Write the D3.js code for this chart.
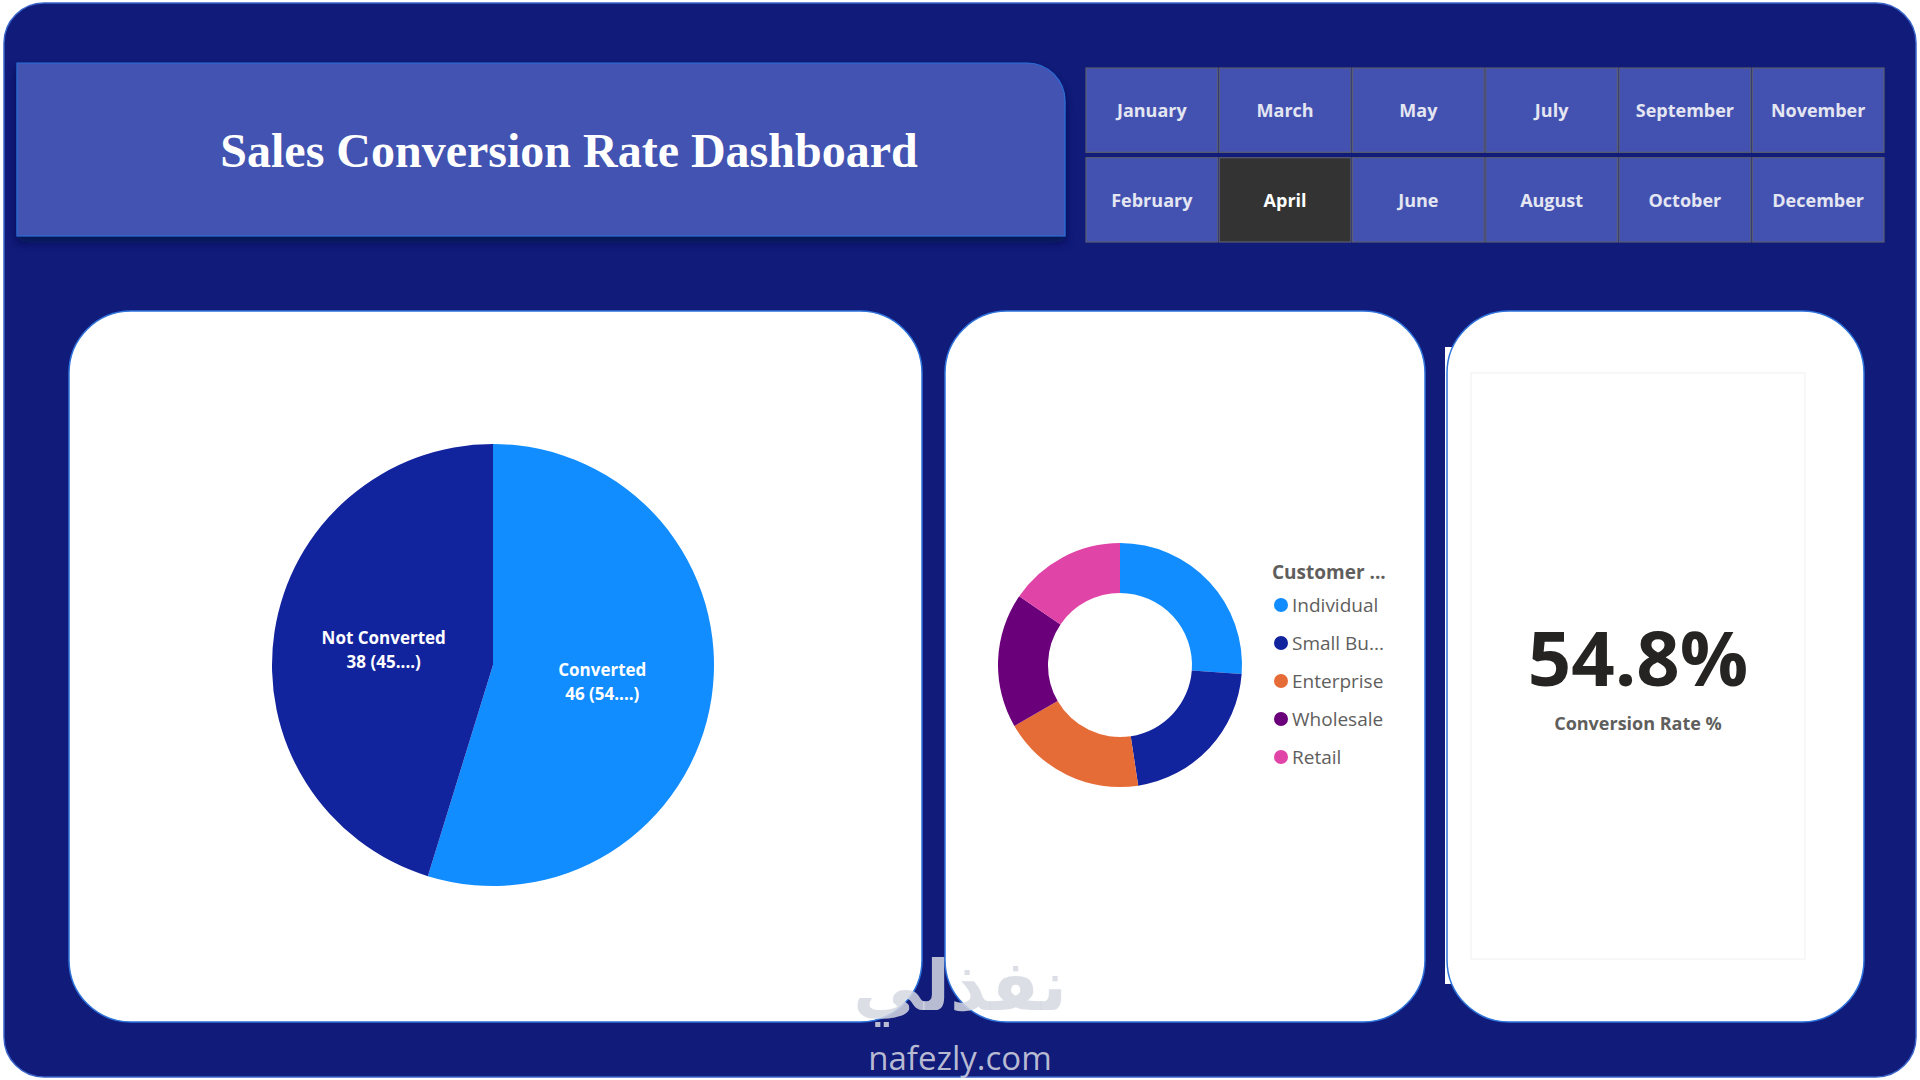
<!DOCTYPE html>
<html>
<head>
<meta charset="utf-8">
<script src="https://cdn.jsdelivr.net/npm/d3@7"></script>
<style>
  html, body { margin: 0; padding: 0; background: #ffffff; }
  svg { display: block; }
</style>
</head>
<body>
<svg id="chart" width="1920" height="1080"></svg>
<script>
// ---------- data ----------
const title = "Sales Conversion Rate Dashboard";
const monthsRow1 = ["January", "March", "May", "July", "September", "November"];
const monthsRow2 = ["February", "April", "June", "August", "October", "December"];
const selectedMonth = "April";

const statusLabels = ["Converted", "Not Converted"];
const statusValues = [46, 38];
const statusPctText = ["54....", "45...."];

const customerTypes = ["Individual", "Small Business", "Enterprise", "Wholesale", "Retail"];
const customerLegendText = ["Individual", "Small Bu...", "Enterprise", "Wholesale", "Retail"];
const customerValues = [22, 18, 16, 15, 13];
const legendTitle = "Customer ...";

const kpiValue = 0.548;
const kpiLabel = "Conversion Rate %";

const watermarkArabic = "نفذلي";
const watermarkLatin = "nafezly.com";

// ---------- drawing ----------
const svg = d3.select("#chart");
const defs = svg.append("defs");
const sh = defs.append("filter").attr("id", "shadow").attr("x", "-5%").attr("y", "-5%").attr("width", "110%").attr("height", "130%");
sh.append("feDropShadow").attr("dx", 0).attr("dy", 6).attr("stdDeviation", 5).attr("flood-color", "#050a40").attr("flood-opacity", 0.7);

const NAVY = "#101b7a";
const SLICER = "#4352b1";
const UI = "'Open Sans', 'Noto Sans', sans-serif";

// background frame
svg.append("rect").attr("x", 4).attr("y", 3).attr("width", 1912).attr("height", 1074)
  .attr("rx", 40).attr("ry", 40).attr("fill", NAVY).attr("stroke", "#3a64c8").attr("stroke-width", 1.5);

// title box with rounded top-right corner
const tb = {x: 17, y: 63, w: 1048, h: 173, r: 38};
svg.append("path")
  .attr("d", `M${tb.x},${tb.y} H${tb.x + tb.w - tb.r} A${tb.r},${tb.r} 0 0 1 ${tb.x + tb.w},${tb.y + tb.r} V${tb.y + tb.h} H${tb.x} Z`)
  .attr("fill", SLICER).attr("stroke", "#2a6fd8").attr("stroke-width", 1.2)
  .attr("filter", "url(#shadow)");
svg.append("text").attr("x", tb.x + 552).attr("y", 167)
  .attr("text-anchor", "middle")
  .attr("font-family", "'Liberation Serif', 'Times New Roman', serif")
  .attr("font-weight", "bold").attr("font-size", 48).attr("fill", "#ffffff")
  .text(title);

// month slicer
const months = [monthsRow1, monthsRow2];
const colX = d3.scaleBand().domain(d3.range(6)).range([1086, 1884]).paddingInner(0.012);
const rowY = d3.scaleBand().domain([0, 1]).range([68, 242]).paddingInner(0.06);
months.forEach((row, ri) => {
  const g = svg.append("g");
  row.forEach((m, ci) => {
    const sel = m === selectedMonth;
    g.append("rect").attr("x", colX(ci)).attr("y", rowY(ri))
      .attr("width", colX.bandwidth()).attr("height", rowY.bandwidth())
      .attr("fill", sel ? "#333333" : SLICER).attr("stroke", "#5b5e70").attr("stroke-width", 1.2);
    g.append("text").attr("x", colX(ci) + colX.bandwidth() / 2).attr("y", rowY(ri) + rowY.bandwidth() / 2 + 7)
      .attr("text-anchor", "middle").attr("font-family", UI).attr("font-weight", 700)
      .attr("font-size", 18).attr("fill", sel ? "#ffffff" : "#e4e6f2").text(m);
  });
});

// panels
function panel(x, y, w, h, r) {
  svg.append("rect").attr("x", x).attr("y", y).attr("width", w).attr("height", h)
    .attr("rx", r).attr("ry", r).attr("fill", "#ffffff").attr("stroke", "#2f74dc").attr("stroke-width", 1.5);
}
panel(69, 311, 853, 711, 62);
panel(945, 311, 480, 711, 62);
svg.append("rect").attr("x", 1445).attr("y", 347).attr("width", 20).attr("height", 637).attr("fill", "#ffffff");
panel(1447, 311, 417, 711, 62);
// inner KPI card
svg.append("rect").attr("x", 1471).attr("y", 373).attr("width", 334).attr("height", 586)
  .attr("fill", "#ffffff").attr("stroke", "#f0f0f0").attr("stroke-width", 1);

// ---------- pie ----------
const pieColors = d3.scaleOrdinal().domain(statusLabels).range(["#118dff", "#12239e"]);
const pieData = d3.pie().sort(null).value(d => d.v)(statusLabels.map((l, i) => ({l, v: statusValues[i], p: statusPctText[i]})));
const pieR = 221;
const pieArc = d3.arc().innerRadius(0).outerRadius(pieR);
const gp = svg.append("g").attr("transform", "translate(493,665)");
gp.selectAll("path").data(pieData).join("path")
  .attr("d", pieArc).attr("fill", d => pieColors(d.data.l));
const labelArc = d3.arc().innerRadius(0).outerRadius(pieR);
const pl = gp.selectAll("g.lbl").data(pieData).join("g").attr("class", "lbl")
  .attr("transform", d => `translate(${labelArc.centroid(d)})`);
pl.append("text").attr("text-anchor", "middle").attr("y", -5)
  .attr("font-family", UI).attr("font-weight", 700).attr("font-size", 17).attr("fill", "#ffffff")
  .text(d => d.data.l);
pl.append("text").attr("text-anchor", "middle").attr("y", 19)
  .attr("font-family", UI).attr("font-weight", 700).attr("font-size", 17).attr("fill", "#ffffff")
  .text(d => `${d.data.v} (${d.data.p})`);

// ---------- donut ----------
const donutColors = d3.scaleOrdinal().domain(customerTypes).range(["#118dff", "#12239e", "#e66c37", "#6b007b", "#e044a7"]);
const donutData = d3.pie().sort(null).value(d => d.v)(customerTypes.map((t, i) => ({t, v: customerValues[i]})));
const donutArc = d3.arc().innerRadius(72).outerRadius(122);
const gd = svg.append("g").attr("transform", "translate(1120,665)");
gd.selectAll("path").data(donutData).join("path")
  .attr("d", donutArc).attr("fill", d => donutColors(d.data.t));

// legend
const lg = svg.append("g").attr("transform", "translate(1272,0)");
lg.append("text").attr("x", 0).attr("y", 579)
  .attr("font-family", UI).attr("font-weight", 700).attr("font-size", 19).attr("fill", "#605e5c")
  .text(legendTitle);
const ly = d3.scalePoint().domain(customerTypes).range([605, 757]);
const li = lg.selectAll("g.li").data(customerTypes).join("g").attr("class", "li")
  .attr("transform", d => `translate(0,${ly(d)})`);
li.append("circle").attr("cx", 9).attr("cy", 0).attr("r", 7).attr("fill", d => donutColors(d));
li.append("text").attr("x", 20).attr("y", 7)
  .attr("font-family", UI).attr("font-size", 19).attr("fill", "#605e5c")
  .text((d, i) => customerLegendText[i]);

// ---------- KPI ----------
svg.append("text").attr("x", 1638).attr("y", 686).attr("text-anchor", "middle")
  .attr("font-family", UI).attr("font-weight", 700).attr("font-size", 76).attr("fill", "#252423")
  .text(d3.format(".1%")(kpiValue));
svg.append("text").attr("x", 1638).attr("y", 730).attr("text-anchor", "middle")
  .attr("font-family", UI).attr("font-weight", 700).attr("font-size", 18).attr("fill", "#605e5c")
  .text(kpiLabel);

// ---------- watermark ----------
svg.append("text").attr("x", 960).attr("y", 1010).attr("text-anchor", "middle")
  .attr("font-family", "'DejaVu Sans', sans-serif").attr("font-weight", "bold").attr("font-size", 70)
  .attr("fill", "#d6d8e2").attr("fill-opacity", 0.85).text(watermarkArabic);
svg.append("text").attr("x", 960).attr("y", 1070).attr("text-anchor", "middle")
  .attr("font-family", UI).attr("font-size", 33)
  .attr("fill", "#d6d8e2").attr("fill-opacity", 0.85).text(watermarkLatin);
</script>
</body>
</html>
